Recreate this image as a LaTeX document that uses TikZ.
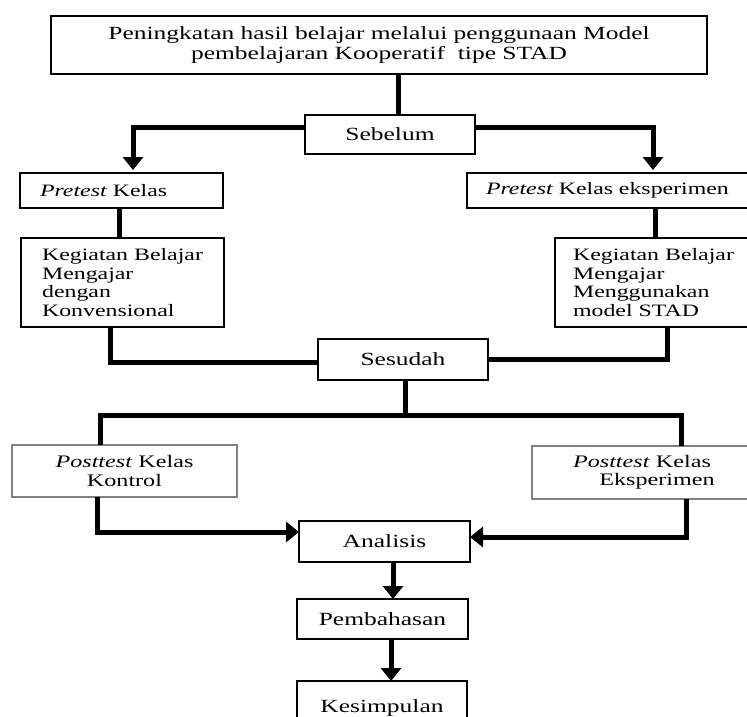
\documentclass[tikz,border=0pt]{standalone}
\usepackage{fontspec}
\setmainfont{Liberation Serif}[FakeStretch=1.37]
\usetikzlibrary{arrows.meta}
\begin{document}
\begin{tikzpicture}[x=1pt,y=-1pt,
  boxk/.style={draw=black, line width=2.8pt, inner sep=0pt, outer sep=0pt,
    font=\fontsize{18.6}{20}\selectfont},
  small/.style={font=\fontsize{17.4}{18.8}\selectfont},
  boxg/.style={draw=black!50, line width=1.1pt, inner sep=0pt, outer sep=0pt,
    font=\fontsize{17.6}{18.5}\selectfont, align=center},
  conn/.style={line width=5pt},
  arr/.style={conn, -{Triangle[width=20pt,length=13pt]}}]
\useasboundingbox (0,0) rectangle (747,716);

\node[boxk, align=center, minimum width=656pt, minimum height=58pt] (title) at (379,45)
  {Peningkatan hasil belajar melalui penggunaan Model\\pembelajaran Kooperatif\ \ tipe STAD};
\node[boxk, minimum width=170pt, minimum height=39pt] (sebelum) at (390,134.5) {Sebelum};
\node[boxk, small, align=left, inner xsep=20pt, text width=163pt, minimum height=35pt] (preL) at (121.5,190.5)
  {\textit{Pretest} Kelas};
\node[boxk, small, align=left, inner xsep=19pt, text width=262pt, minimum height=35pt] (preR) at (617,190.5)
  {\textit{Pretest} Kelas eksperimen};
\node[boxk, small, align=left, minimum width=203pt, minimum height=89pt] (kbmL) at (122.5,282.5)
  {Kegiatan Belajar\\Mengajar\\dengan\\Konvensional};
\node[boxk, small, align=left, minimum width=197pt, minimum height=89pt] (kbmR) at (653.5,282.5)
  {Kegiatan Belajar\\Mengajar\\Menggunakan\\model STAD};
\node[boxk, minimum width=170pt, minimum height=41pt] (sesudah) at (403,359.5) {Sesudah};
\node[boxg, minimum width=225pt, minimum height=52pt] (postL) at (124.5,471)
  {\textit{Posttest} Kelas\\Kontrol};
\node[boxg, minimum width=220pt, minimum height=53pt] (postR) at (642,472.5)
  {\textit{Posttest} Kelas\\\hspace*{30pt}Eksperimen};
\node[boxk, minimum width=171pt, minimum height=41pt] (analisis) at (384.5,541.5) {Analisis};
\node[boxk, minimum width=171pt, minimum height=40pt] (pembahasan) at (382.5,619) {Pembahasan};
\node[boxk, minimum width=170pt, minimum height=64pt] (kesimpulan) at (382,713)
  {\raisebox{14pt}{Kesimpulan}};

\coordinate (split) at (405,415);

% title -> sebelum
\draw[conn] ([xshift=8pt]sebelum.north) -- ([xshift=8pt]sebelum.north |- title.south);
% sebelum -> pretests
\draw[arr] ([yshift=7.5pt]sebelum.west) -| ([xshift=11.5pt,yshift=3pt]preL.north);
\draw[arr] ([yshift=7.5pt]sebelum.east) -| ([xshift=36pt,yshift=3pt]preR.north);
% pretest -> kbm
\draw[conn] ([xshift=-2.5pt]preL.south) -- ([xshift=-2.5pt]preL.south |- kbmL.north);
\draw[conn] ([xshift=38pt]preR.south) -- ([xshift=38pt]preR.south |- kbmR.north);
% kbm -> sesudah
\draw[conn] ([xshift=-12.5pt]kbmL.south) |- ([yshift=-2.5pt]sesudah.west);
\draw[conn] (sesudah.east) -| ([xshift=13.5pt]kbmR.south);
% sesudah -> posttests
\draw[conn] ([xshift=2pt]sesudah.south) -- (split);
\draw[conn] ([xshift=-24.5pt]postL.north) |- (split) -| ([xshift=39pt]postR.north);
% posttests -> analisis
\draw[arr] ([xshift=-27.5pt]postL.south) |- ([yshift=9.5pt]analisis.west);
\draw[arr] ([xshift=44pt]postR.south) |- ([yshift=4.5pt]analisis.east);
% analisis -> pembahasan -> kesimpulan
\draw[arr] ([xshift=8.5pt]analisis.south) -- ([xshift=8.5pt]analisis.south |- pembahasan.north);
\draw[arr] ([xshift=8.5pt]pembahasan.south) -- ([xshift=8.5pt]pembahasan.south |- kesimpulan.north);
\end{tikzpicture}
\end{document}
